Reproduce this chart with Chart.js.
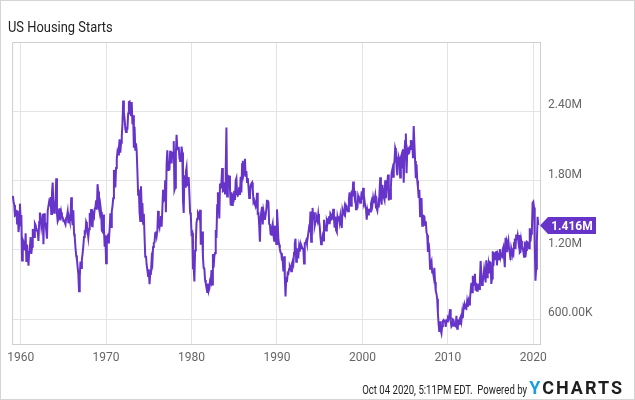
<!DOCTYPE html>
<html>
<head>
<meta charset="utf-8">
<script src="https://cdn.jsdelivr.net/npm/chart.js@4.4.1/dist/chart.umd.min.js"></script>
<style>
  html, body { margin: 0; padding: 0; background: #fff; }
  #wrap { position: relative; width: 635px; height: 400px; overflow: hidden; font-family: Roboto, sans-serif; }
  #chart { position: absolute; left: 0; top: 0; }
  #frame { position: absolute; left: 0; top: 0; width: 635px; height: 400px; box-sizing: border-box; border: 1px solid #d4d4d4; pointer-events: none; }
  #title { position: absolute; left: 8px; top: 20px; font-size: 15px; line-height: 15px; color: #222; white-space: nowrap; transform: scaleX(0.86); transform-origin: left center; }
  #footer { position: absolute; right: 11px; top: 377px; display: flex; align-items: baseline; white-space: nowrap; }
  #stamp { font-size: 12px; color: #222; transform: scaleX(0.8); transform-origin: right center; margin-right: 2px; }
  #logo { font-size: 18px; font-weight: 700; letter-spacing: 2px; color: #1e1e1e; }
  #logo span { color: #1b9de2; }
</style>
</head>
<body>
<div id="wrap">
  <canvas id="chart" width="635" height="400"></canvas>
  <div id="title">US Housing Starts</div>
  <div id="footer"><div id="stamp">Oct 04 2020, 5:11PM EDT.&nbsp; Powered by</div><div id="logo"><span>Y</span>CHARTS</div></div>
  <div id="frame"></div>
</div>
<script>
// monthly housing starts, thousands of units (SAAR), Jan 1959 .. Aug 2020
const firstYear = 1959;

const starts1959 = [1657,1667,1620,1590,1498,1503,1547,1430,1540,1355,1416,1601];

const starts1960s = [
  1460,1503,1109,1289,1271,1247,1197,1344,1097,1246,1246,1063,
  1183,1226,1312,1166,1228,1382,1335,1312,1429,1415,1385,1365,
  1361,1278,1443,1524,1483,1404,1453,1514,1250,1517,1441,1425,
  1366,1297,1541,1580,1618,1600,1657,1511,1690,1784,1569,1521,
  1603,1630,1820,1517,1448,1467,1550,1562,1455,1524,1486,1484,
  1453,1456,1438,1423,1478,1488,1529,1432,1482,1452,1460,1656,
  1470,1415,1544,1340,1310,1220,1152,1120,1053,993,843,961,
  1100,1043,1119,1167,1233,1313,1355,1349,1441,1422,1361,1308,
  1380,1520,1466,1554,1408,1405,1512,1495,1556,1569,1630,1548,
  1769,1705,1561,1524,1583,1528,1368,1358,1507,1381,1229,1327
];

const starts1970s = [
  1085,1305,1319,1264,1290,1385,1517,1399,1534,1580,1647,1893,
  1828,1741,1910,1986,2049,2026,2083,2158,2041,2128,2182,2295,
  2494,2390,2334,2249,2221,2254,2252,2382,2481,2485,2421,2366,
  2481,2289,2365,2084,2266,2067,2123,2051,1874,1677,1724,1526,
  1451,1752,1555,1607,1426,1513,1316,1142,1150,1070,1026,975,
  1032,904,993,1005,1121,1087,1226,1260,1264,1344,1360,1321,
  1367,1538,1421,1395,1459,1495,1401,1550,1720,1629,1641,1804,
  1527,1943,2063,1892,1971,1893,2058,2020,1949,2042,2042,2142,
  1718,1738,2032,2197,2075,2070,2092,1996,1970,1981,2094,2044,
  1630,1520,1847,1748,1876,1913,1760,1778,1832,1681,1524,1498
];

const starts1980s = [
  1341,1350,1047,1051,927,1196,1269,1436,1471,1523,1510,1482,
  1547,1246,1306,1360,1140,1045,1041,940,911,873,837,910,
  843,866,931,917,1025,902,1166,1046,1144,1173,1372,1303,
  1586,1699,1606,1472,1776,1733,1785,1910,1710,1715,1785,1688,
  1897,2260,1663,1851,1774,1843,1732,1586,1698,1590,1689,1612,
  1711,1632,1800,1821,1680,1676,1684,1743,1676,1834,1698,1942,
  1972,1848,1876,1990,1834,1883,1789,1822,1747,1650,1657,1759,
  1774,1784,1726,1614,1628,1594,1575,1605,1695,1515,1518,1417,
  1271,1473,1532,1573,1421,1541,1509,1461,1500,1547,1633,1562,
  1621,1425,1422,1339,1331,1397,1427,1332,1279,1410,1351,1251
];

const starts1990s = [
  1551,1437,1289,1248,1212,1177,1171,1115,1110,1014,1145,969,
  798,965,921,1001,996,1036,1063,1049,1015,1079,1103,1079,
  1176,1250,1297,1099,1214,1145,1139,1226,1186,1244,1214,1227,
  1210,1210,1083,1258,1260,1280,1254,1300,1343,1392,1376,1533,
  1272,1337,1564,1465,1526,1409,1439,1450,1474,1450,1511,1455,
  1407,1316,1249,1267,1314,1281,1461,1416,1369,1369,1452,1431,
  1467,1491,1424,1516,1504,1467,1472,1557,1475,1392,1489,1370,
  1355,1486,1457,1492,1442,1494,1437,1390,1546,1520,1510,1566,
  1525,1584,1567,1540,1536,1641,1698,1614,1582,1715,1660,1792,
  1748,1670,1710,1553,1611,1559,1669,1648,1635,1608,1648,1708
];

const starts2000s = [
  1636,1737,1604,1626,1575,1559,1463,1541,1507,1549,1551,1532,
  1600,1625,1590,1649,1605,1636,1670,1567,1562,1540,1602,1568,
  1698,1829,1642,1592,1764,1717,1655,1633,1804,1648,1753,1788,
  1853,1629,1726,1643,1751,1867,1897,1833,1939,1967,2083,2057,
  1911,1846,1998,2003,1981,1828,2002,2024,1905,2072,1782,2042,
  2144,2207,1864,2061,2025,2068,2054,2095,2151,2065,2147,1994,
  2273,2119,1969,1821,1942,1802,1737,1650,1720,1491,1570,1649,
  1409,1480,1495,1490,1415,1448,1354,1330,1183,1264,1197,1037,
  1084,1103,1005,1013,973,1046,923,844,820,777,652,560,
  490,582,505,478,540,585,594,586,585,534,588,581
];

const starts2010s = [
  614,604,636,687,583,536,546,599,594,543,545,539,
  630,517,600,554,561,608,623,585,650,610,711,694,
  723,704,695,753,708,757,728,770,847,915,833,976,
  888,962,994,847,915,847,891,898,863,936,1105,1003,
  897,924,966,1035,993,918,1110,964,1020,1074,1004,1095,
  1090,906,953,1188,1060,1180,1120,1121,1191,1067,1171,1158,
  1120,1208,1135,1158,1148,1205,1226,1129,1051,1305,1189,1269,
  1246,1281,1204,1174,1114,1215,1185,1172,1159,1261,1299,1209,
  1334,1290,1327,1276,1329,1177,1184,1280,1236,1217,1187,1142,
  1273,1140,1199,1270,1265,1256,1215,1387,1272,1340,1370,1608
];

const starts2020 = [1617,1567,1269,934,1038,1273,1487,1416];

const yearTicks = [1960, 1970, 1980, 1990, 2000, 2010, 2020];
const valueTicks = [600, 1200, 1800, 2400];

const allStarts = [].concat(starts1959, starts1960s, starts1970s, starts1980s,
  starts1990s, starts2000s, starts2010s, starts2020);
const points = allStarts.map((v, i) => ({ x: firstYear + i / 12, y: v }));

const lineColor = '#6634c9';
const axisFont = { family: 'Roboto', size: 12 };

let fmtValue = (v) => {
  if (v >= 1000) return (v / 1000).toFixed(2) + 'M';
  return v.toFixed(2) + 'K';
};

const frameAndTag = {
  id: 'frameAndTag',
  beforeDatasetsDraw(chart) {
    const a = chart.chartArea;
    const ctx = chart.ctx;
    ctx.save();
    ctx.strokeStyle = '#cfcfcf';
    ctx.lineWidth = 1;
    ctx.strokeRect(a.left + 0.5, a.top + 0.5, a.right - a.left - 1, a.bottom - a.top);
    ctx.restore();
  },
  afterDraw(chart) {
    const a = chart.chartArea;
    const ctx = chart.ctx;
    const last = allStarts[allStarts.length - 1];
    const y = Math.round(chart.scales.y.getPixelForValue(last)) + 0.5;
    const tip = a.right - 1;
    ctx.save();
    ctx.fillStyle = lineColor;
    ctx.beginPath();
    ctx.moveTo(tip, y);
    ctx.lineTo(tip + 8, y - 8.5);
    ctx.lineTo(596, y - 8.5);
    ctx.lineTo(596, y + 8.5);
    ctx.lineTo(tip + 8, y + 8.5);
    ctx.closePath();
    ctx.fill();
    ctx.fillStyle = '#fff';
    ctx.font = 'bold 12px Roboto';
    ctx.textAlign = 'center';
    ctx.textBaseline = 'middle';
    ctx.fillText((last / 1000).toFixed(3) + 'M', 572, y + 1);
    ctx.restore();
  }
};

let createChart = (id) => {
  let ctx = document.querySelector(id).getContext('2d');
  return new Chart(ctx, {
    type: 'line',
    data: {
      datasets: [{
        data: points,
        borderColor: lineColor,
        borderWidth: 2,
        pointRadius: 0,
        tension: 0,
        fill: false
      }]
    },
    options: {
      responsive: false,
      animation: false,
      devicePixelRatio: 1,
      layout: { padding: { left: 10, top: 42, right: 0, bottom: 0 } },
      plugins: { legend: { display: false }, tooltip: { enabled: false } },
      scales: {
        x: {
          type: 'linear',
          min: firstYear,
          max: 2020.9,
          afterBuildTicks: (s) => { s.ticks = yearTicks.map(v => ({ value: v })); },
          afterFit: (s) => { s.height = 56; },
          ticks: { callback: (v) => String(v), color: '#666', font: axisFont, padding: 7, maxRotation: 0, autoSkip: false },
          grid: { color: '#e4e4e4', drawTicks: false },
          border: { display: false }
        },
        y: {
          position: 'right',
          min: 386,
          max: 3000,
          afterBuildTicks: (s) => { s.ticks = valueTicks.map(v => ({ value: v })); },
          afterFit: (s) => { s.width = 94; },
          ticks: { callback: fmtValue, color: '#666', font: axisFont, padding: 7, labelOffset: -6 },
          grid: { color: '#e4e4e4', drawTicks: false },
          border: { display: false }
        }
      }
    },
    plugins: [frameAndTag]
  });
};

createChart('#chart');
</script>
</body>
</html>
